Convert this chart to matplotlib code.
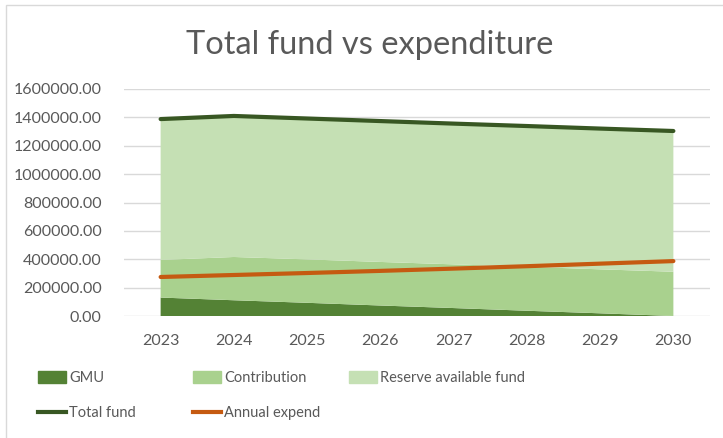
import matplotlib
matplotlib.use("Agg")
from matplotlib import pyplot as plt
from matplotlib.patches import Rectangle, Patch
from matplotlib.lines import Line2D
import numpy as np

years = ["2023", "2024", "2025", "2026", "2027", "2028", "2029", "2030"]
gmu = [130000, 111000, 93000, 74000, 56000, 37000, 19000, 0]
contribution = [265000, 305000, 306000, 307000, 308000, 310000, 310000, 312000]
reserve = [993000, 994000, 993000, 993000, 992000, 992000, 992000, 992000]
total_fund = [1388000, 1410000, 1392000, 1374000, 1356000, 1339000, 1321000, 1304000]
annual_expend = [275000, 289000, 303000, 318000, 334000, 351000, 369000, 387000]

c_gmu = "#548235"
c_contrib = "#A9D18E"
c_reserve = "#C5E0B4"
c_total = "#385723"
c_expend = "#C55A11"
grey = "#595959"

plt.rcParams["font.family"] = ["Lato", "DejaVu Sans"]

fig = plt.figure(figsize=(7.23, 4.38), dpi=100)
ax = fig.add_axes([124 / 723, 1 - 316 / 438, 586 / 723, 227 / 438])

x = np.arange(len(years))
ax.stackplot(x, gmu, contribution, reserve,
             colors=[c_gmu, c_contrib, c_reserve], linewidth=0, zorder=2)
ax.plot(x, total_fund, color=c_total, lw=3, solid_capstyle="round", zorder=3)
ax.plot(x, annual_expend, color=c_expend, lw=3, solid_capstyle="round", zorder=3)

ax.set_xlim(-0.5, len(years) - 0.5)
ax.set_ylim(0, 1600000)
ax.set_yticks(np.arange(0, 1600001, 200000))
ax.set_yticklabels([f"{v:.2f}" for v in np.arange(0, 1600001, 200000)])
ax.set_xticks(x)
ax.set_xticklabels(years)
ax.tick_params(length=0, colors=grey, labelsize=11.5)
ax.tick_params(axis="y", pad=16)
ax.tick_params(axis="x", pad=13)
ax.grid(axis="y", color="#D9D9D9", lw=1, zorder=0)
for s in ax.spines.values():
    s.set_visible(False)

fig.text(370 / 723, 1 - 45 / 438, "Total fund vs expenditure", ha="center",
         va="center", fontsize=23.5, color=grey)

# legend, laid out in three columns like the reference
cols = [
    ([Patch(color=c_gmu), Line2D([], [], color=c_total, lw=3)], ["GMU", "Total fund"], 38),
    ([Patch(color=c_contrib), Line2D([], [], color=c_expend, lw=3)], ["Contribution", "Annual expend"], 193),
    ([Patch(color=c_reserve)], ["Reserve available fund"], 349),
]
for handles, labels, px in cols:
    leg = fig.legend(handles, labels, loc="upper left",
                     bbox_to_anchor=(px / 723, 1 - 371 / 438), frameon=False,
                     fontsize=10.5, labelcolor=grey, handlelength=1.95,
                     handleheight=0.85, handletextpad=0.2, labelspacing=1.45,
                     borderpad=0, borderaxespad=0)

fig.patches.append(Rectangle((6 / 723, -0.02), 1.0, 1 - 5 / 438 + 0.02,
                             transform=fig.transFigure, fill=False,
                             edgecolor="#D9D9D9", lw=1))

fig.savefig("out.png", dpi=100)
